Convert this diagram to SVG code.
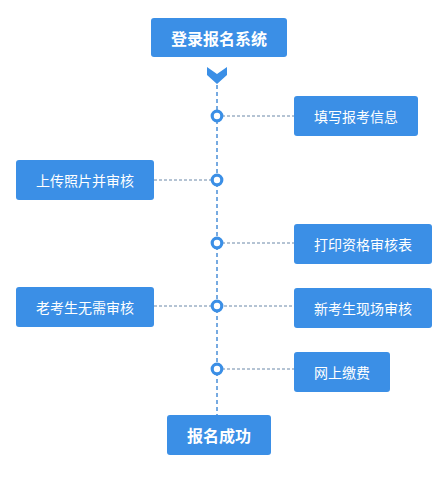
<svg xmlns="http://www.w3.org/2000/svg" width="445" height="479" viewBox="0 0 445 479">
<style>
.box{fill:#3b8fe6}
.t{fill:#fff;font-family:"Noto Sans CJK SC","Liberation Sans",sans-serif;font-size:14px;text-anchor:middle;dominant-baseline:central}
.tb{fill:#fff;font-family:"Noto Sans CJK SC","Liberation Sans",sans-serif;font-size:16px;font-weight:bold;text-anchor:middle;dominant-baseline:central}
.v{stroke:#4a8fd8;stroke-width:1.5;stroke-dasharray:4 3;fill:none}
.h{stroke:#6a88a8;stroke-width:1;stroke-dasharray:3 2;fill:none}
.dot{fill:#fff;stroke:#3b8fe6;stroke-width:3.2}
</style>
<rect width="445" height="479" fill="#fff"/>
<g id="connectors">
<line class="v" x1="217" y1="85" x2="217" y2="415"/>
<line class="h" x1="217" y1="116" x2="294" y2="116"/>
<line class="h" x1="154" y1="180" x2="217" y2="180"/>
<line class="h" x1="217" y1="243" x2="294" y2="243"/>
<line class="h" x1="154" y1="306" x2="294" y2="306"/>
<line class="h" x1="217" y1="369" x2="294" y2="369"/>
<polygon fill="#3b8fe6" points="207,67 217,74 227,67 227,75 217,84 207,75"/>
<circle class="dot" cx="217" cy="116" r="4.8"/>
<circle class="dot" cx="217" cy="180" r="4.8"/>
<circle class="dot" cx="217" cy="243" r="4.8"/>
<circle class="dot" cx="217" cy="306" r="4.8"/>
<circle class="dot" cx="217" cy="369" r="4.8"/>
</g>
<g id="start"><rect class="box" x="151" y="18" width="136" height="39" rx="3"/><text class="tb" x="219" y="38">登录报名系统</text></g>
<g id="n1"><rect class="box" x="294" y="96" width="124" height="40" rx="3"/><text class="t" x="356" y="116">填写报考信息</text></g>
<g id="n2"><rect class="box" x="16" y="160" width="138" height="40" rx="3"/><text class="t" x="85" y="180">上传照片并审核</text></g>
<g id="n3"><rect class="box" x="294" y="224" width="138" height="40" rx="3"/><text class="t" x="363" y="244">打印资格审核表</text></g>
<g id="n4"><rect class="box" x="16" y="287" width="138" height="40" rx="3"/><text class="t" x="85" y="307">老考生无需审核</text></g>
<g id="n5"><rect class="box" x="294" y="288" width="138" height="40" rx="3"/><text class="t" x="363" y="308">新考生现场审核</text></g>
<g id="n6"><rect class="box" x="294" y="352" width="96" height="40" rx="3"/><text class="t" x="342" y="372">网上缴费</text></g>
<g id="end"><rect class="box" x="167" y="415" width="104" height="40" rx="3"/><text class="tb" x="219" y="435">报名成功</text></g>
</svg>
